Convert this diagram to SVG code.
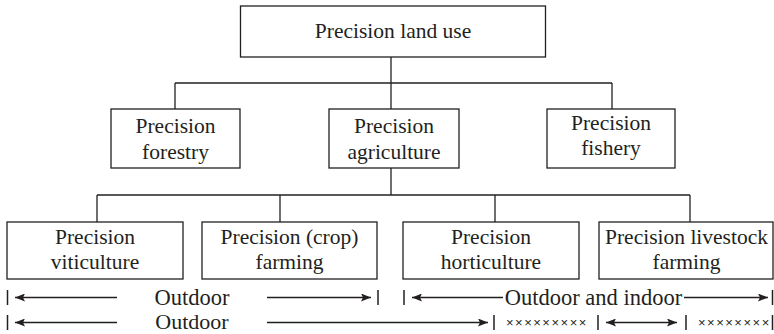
<svg xmlns="http://www.w3.org/2000/svg" width="774" height="334" viewBox="0 0 774 334">
  <style>
    .box { fill: #ffffff; stroke: #231f20; stroke-width: 1.3; }
    .conn { fill: none; stroke: #231f20; stroke-width: 1.3; }
    .lbl { font-family: "Liberation Serif", "Times New Roman", serif; font-size: 21.5px; fill: #231f20; text-anchor: middle; }
    .row { font-family: "Liberation Serif", "Times New Roman", serif; font-size: 22.5px; fill: #231f20; text-anchor: middle; }
    .xs { font-family: "Liberation Sans", Arial, sans-serif; font-size: 13px; fill: #231f20; letter-spacing: 1.5px; }
    .arr { fill: none; stroke: #231f20; stroke-width: 1.3; }
    .tick { fill: none; stroke: #231f20; stroke-width: 1.5; }
  </style>
  <defs>
    <marker id="ah" markerUnits="userSpaceOnUse" markerWidth="11" markerHeight="8" refX="10" refY="4" orient="auto-start-reverse">
      <path d="M0,0 L10,4 L0,8 L2,4 z" fill="#231f20"/>
    </marker>
  </defs>
  <rect width="774" height="334" fill="#ffffff"/>

  <g id="connectors">
    <path class="conn" d="M391,57 V109"/>
    <path class="conn" d="M175,83 H612"/>
    <path class="conn" d="M175,83 V109"/>
    <path class="conn" d="M612,83 V109"/>
    <path class="conn" d="M391,168 V195"/>
    <path class="conn" d="M97,195 H690"/>
    <path class="conn" d="M97,195 V222"/>
    <path class="conn" d="M280,195 V222"/>
    <path class="conn" d="M495,195 V222"/>
    <path class="conn" d="M690,195 V222"/>
  </g>

  <g id="node-land-use">
    <rect class="box" x="240.5" y="6" width="305" height="51"/>
    <text class="lbl" x="393" y="38">Precision land use</text>
  </g>
  <g id="node-forestry">
    <rect class="box" x="111" y="109" width="129" height="59"/>
    <text class="lbl" x="175.5" y="133">Precision</text>
    <text class="lbl" x="175.5" y="159">forestry</text>
  </g>
  <g id="node-agriculture">
    <rect class="box" x="329" y="109" width="130" height="59"/>
    <text class="lbl" x="394" y="133">Precision</text>
    <text class="lbl" x="394" y="159">agriculture</text>
  </g>
  <g id="node-fishery">
    <rect class="box" x="547" y="109" width="128" height="59"/>
    <text class="lbl" x="611" y="130">Precision</text>
    <text class="lbl" x="611" y="155">fishery</text>
  </g>
  <g id="node-viticulture">
    <rect class="box" x="7" y="222" width="176" height="57"/>
    <text class="lbl" x="95" y="244">Precision</text>
    <text class="lbl" x="95" y="269">viticulture</text>
  </g>
  <g id="node-crop-farming">
    <rect class="box" x="202" y="222" width="175" height="57"/>
    <text class="lbl" x="289.5" y="244">Precision (crop)</text>
    <text class="lbl" x="289.5" y="269">farming</text>
  </g>
  <g id="node-horticulture">
    <rect class="box" x="403" y="222" width="176" height="57"/>
    <text class="lbl" x="491" y="244">Precision</text>
    <text class="lbl" x="491" y="269">horticulture</text>
  </g>
  <g id="node-livestock">
    <rect class="box" x="599" y="222" width="174" height="57"/>
    <text class="lbl" x="686.5" y="244">Precision livestock</text>
    <text class="lbl" x="686.5" y="269">farming</text>
  </g>

  <g id="scope-rows">
    <!-- row 1 -->
    <path class="tick" d="M7.5,290 V305"/>
    <path class="arr" d="M117,297.5 H15" marker-end="url(#ah)"/>
    <text class="row" x="192" y="305">Outdoor</text>
    <path class="arr" d="M267,297.5 H371" marker-end="url(#ah)"/>
    <path class="tick" d="M378,290 V305"/>
    <path class="tick" d="M404,290 V305"/>
    <path class="arr" d="M503,297.5 H412" marker-end="url(#ah)"/>
    <text class="row" x="593.5" y="305">Outdoor and indoor</text>
    <path class="arr" d="M684,297.5 H768" marker-end="url(#ah)"/>
    <path class="tick" d="M772.5,290 V305"/>
    <!-- row 2 -->
    <path class="tick" d="M7.5,315 V330"/>
    <path class="arr" d="M117,322.5 H15" marker-end="url(#ah)"/>
    <text class="row" x="192" y="328.5" style="font-size:22px">Outdoor</text>
    <path class="arr" d="M267,322.5 H488" marker-end="url(#ah)"/>
    <path class="tick" d="M494,315 V330"/>
    <text class="xs" x="506" y="327">×××××××××</text>
    <path class="tick" d="M598,315 V330"/>
    <path class="arr" d="M606,322.5 H677" marker-start="url(#ah)" marker-end="url(#ah)"/>
    <path class="tick" d="M686,315 V330"/>
    <text class="xs" x="698" y="327">××××××××</text>
    <path class="tick" d="M772.5,315 V330"/>
  </g>
</svg>
